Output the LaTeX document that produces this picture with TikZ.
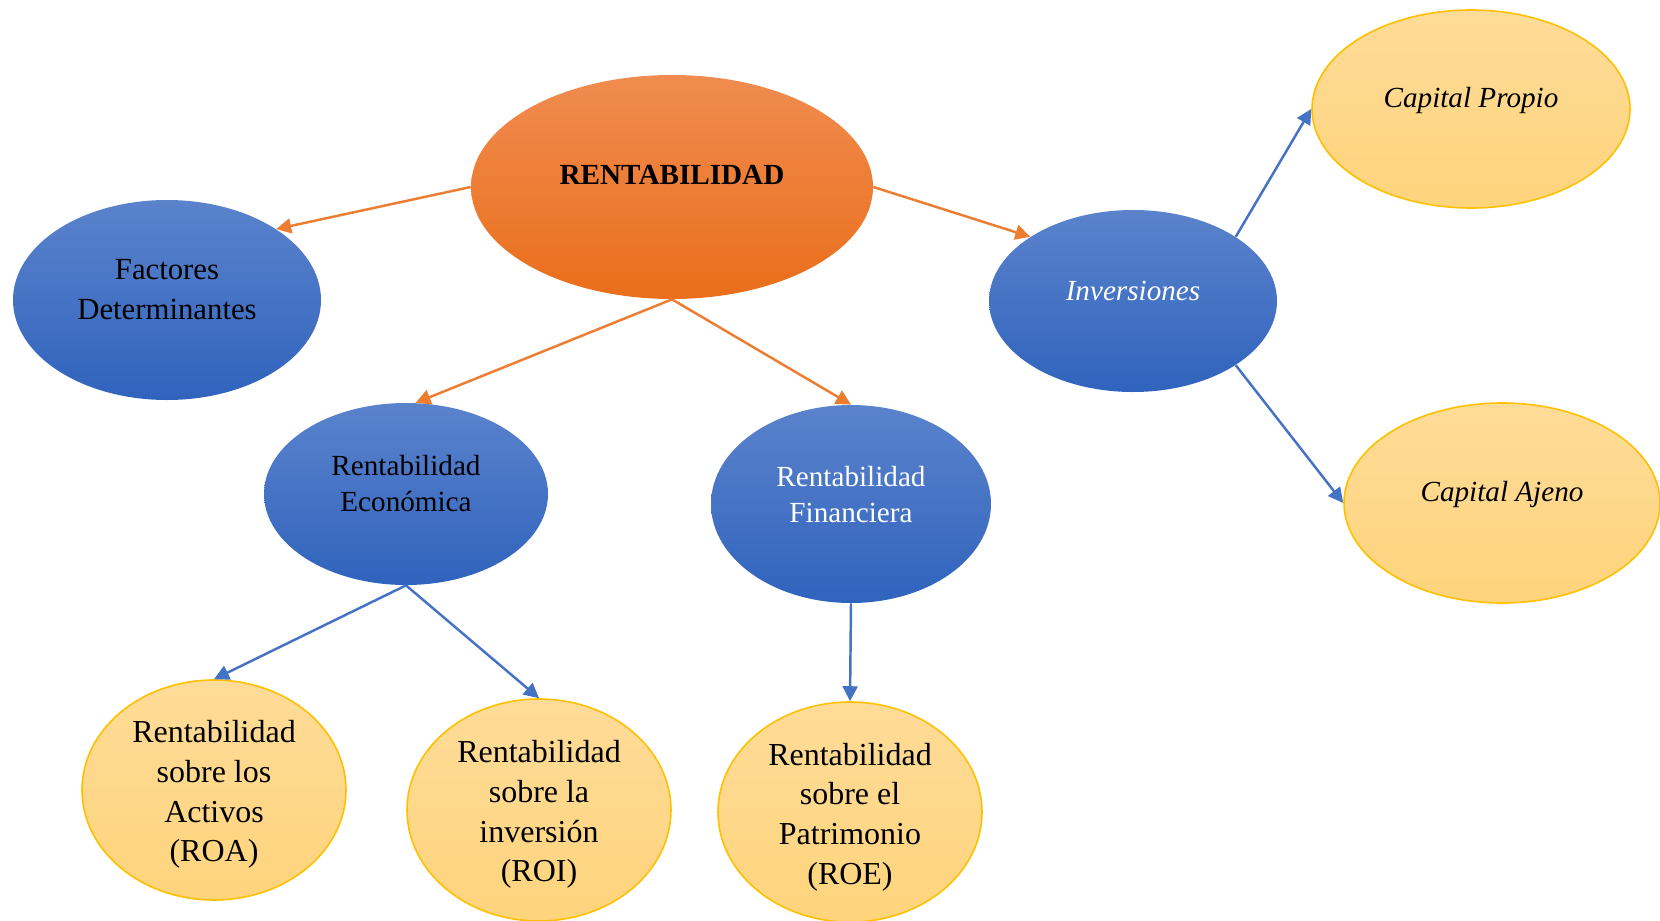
\documentclass[tikz,border=0pt]{standalone}
\usepackage{fontspec}
\setmainfont{Liberation Serif}
\usetikzlibrary{shapes.geometric, arrows.meta, positioning}
\definecolor{rentorange}{HTML}{ED7D31}
\definecolor{orangetop}{HTML}{F08C50}
\definecolor{orangebot}{HTML}{EA6E1B}
\definecolor{rentblue}{HTML}{4472C4}
\definecolor{bluetop}{HTML}{5B83CC}
\definecolor{bluebot}{HTML}{3063BD}
\definecolor{goldline}{HTML}{FFC000}
\definecolor{goldtop}{HTML}{FEDB98}
\definecolor{goldbot}{HTML}{FED47C}

\newcommand{\leaffont}{\fontsize{18.2}{22.6}\selectfont}
\newcommand{\factfont}{\fontsize{17.5}{22.8}\selectfont}
\newcommand{\midfont}{\fontsize{16.6}{21}\selectfont}

\tikzset{
  oval/.style={ellipse, inner sep=0pt},
  orangeoval/.style={oval, top color=orangetop, bottom color=orangebot},
  blueoval/.style={oval, top color=bluetop, bottom color=bluebot},
  goldoval/.style={oval, draw=goldline, line width=0.9pt, top color=goldtop, bottom color=goldbot},
  ovaltext/.style={align=center, inner sep=0pt},
  orangearrow/.style={rentorange, line width=1.4pt, -{Triangle[length=0.3cm, width=0.3cm]}},
  bluearrow/.style={rentblue, line width=1.4pt, -{Triangle[length=0.3cm, width=0.3cm]}},
}

\begin{document}
\begin{tikzpicture}
  \useasboundingbox (0,0) rectangle (33.2,-18.42);

  % Central concept
  \node[orangeoval, minimum width=8.04cm, minimum height=4.48cm] (cent) at (13.44,-3.74) {};
  \node[ovaltext, font=\midfont\bfseries] (cent-txt) at ([yshift=0.24cm]cent.center) {RENTABILIDAD};

  % Second level (blue)
  \node[blueoval, minimum width=6.16cm, minimum height=4cm] (fact) at (3.34,-6.0) {};
  \node[ovaltext, font=\factfont] (fact-txt) at ([yshift=0.21cm]fact.center) {Factores\\Determinantes};

  \node[blueoval, minimum width=5.76cm, minimum height=3.64cm] (inv) at (22.66,-6.02) {};
  \node[ovaltext, white, font=\midfont\itshape] (inv-txt) at ([yshift=0.2cm]inv.center) {Inversiones};

  \node[blueoval, minimum width=5.68cm, minimum height=3.64cm] (econ) at (8.12,-9.88) {};
  \node[ovaltext, font=\midfont] (econ-txt) at ([yshift=0.21cm]econ.center) {Rentabilidad\\Económica};

  \node[blueoval, minimum width=5.6cm, minimum height=3.96cm] (fin) at (17.02,-10.08) {};
  \node[ovaltext, white, font=\midfont] (fin-txt) at ([yshift=0.19cm]fin.center) {Rentabilidad\\Financiera};

  % Third level (gold)
  \node[goldoval, minimum width=6.36cm, minimum height=3.96cm] (propio) at (29.42,-2.18) {};
  \node[ovaltext, font=\midfont\itshape] (propio-txt) at ([yshift=0.17cm]propio.center) {Capital Propio};

  \node[goldoval, minimum width=6.32cm, minimum height=4cm] (ajeno) at (30.04,-10.06) {};
  \node[ovaltext, font=\midfont\itshape] (ajeno-txt) at ([yshift=0.18cm]ajeno.center) {Capital Ajeno};

  \node[goldoval, minimum width=5.28cm, minimum height=4.4cm] (roa) at (4.28,-15.8) {};
  \node[ovaltext, font=\leaffont] (roa-txt) at ([yshift=-0.09cm]roa.center) {Rentabilidad\\sobre los\\Activos\\(ROA)};

  \node[goldoval, minimum width=5.28cm, minimum height=4.44cm] (roi) at (10.78,-16.2) {};
  \node[ovaltext, font=\leaffont] (roi-txt) at ([yshift=-0.09cm]roi.center) {Rentabilidad\\sobre la\\inversión\\(ROI)};

  \node[goldoval, minimum width=5.28cm, minimum height=4.4cm] (roe) at (17.0,-16.24) {};
  \node[ovaltext, font=\leaffont] (roe-txt) at ([yshift=-0.1cm]roe.center) {Rentabilidad\\sobre el\\Patrimonio\\(ROE)};

  % Connectors from the central concept
  \draw[orangearrow] (cent.west) -- (fact.33);
  \draw[orangearrow] (cent.east) -- (inv.148);
  \draw[orangearrow] (cent.south) -- (econ.84);
  \draw[orangearrow] (cent.south) -- (fin.north);

  % Connectors to the indicators
  \draw[bluearrow] (econ.south) -- (roa.north);
  \draw[bluearrow] (econ.south) -- (roi.north);
  \draw[bluearrow] (fin.south) -- (roe.north);
  \draw[bluearrow] (inv.32) -- (propio.west);
  \draw[bluearrow] (inv.-32) -- (ajeno.west);
\end{tikzpicture}
\end{document}
